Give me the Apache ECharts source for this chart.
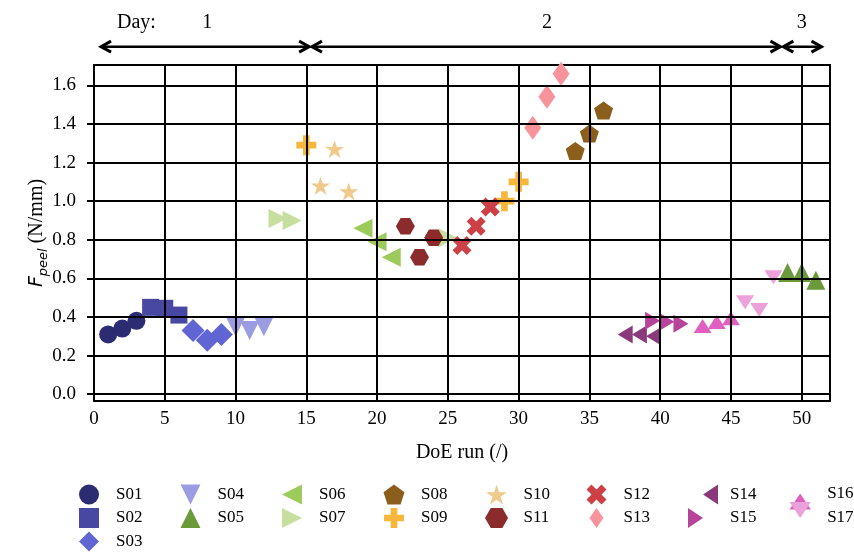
<!DOCTYPE html>
<html>
<head>
<meta charset="utf-8">
<script src="https://cdn.jsdelivr.net/npm/echarts@6/dist/echarts.min.js"></script>
<style>
  html, body { margin: 0; padding: 0; background: #fff; }
  #chart { width: 854px; height: 553px; }
</style>
</head>
<body>
<div id="chart"></div>
<script>
// Peel force F_peel per DoE run, one series per sample (run, N/mm)
const S01 = [[1, 0.31], [2, 0.34], [3, 0.38]];
const S02 = [[4, 0.45], [5, 0.445], [6, 0.41]];
const S03 = [[7, 0.33], [8, 0.28], [9, 0.31]];
const S04 = [[10, 0.35], [11, 0.33], [12, 0.35]];
const S05 = [[49, 0.63], [50, 0.63], [51, 0.59]];
const S06 = [[19, 0.86], [20, 0.79], [21, 0.71]];
const S07 = [[13, 0.91], [14, 0.90], [25, 0.81]];
const S08 = [[34, 1.26], [35, 1.35], [36, 1.47]];
const S09 = [[15, 1.29], [29, 1.00], [30, 1.10]];
const S10 = [[16, 1.08], [17, 1.27], [18, 1.05]];
const S11 = [[22, 0.87], [23, 0.71], [24, 0.81]];
const S12 = [[26, 0.77], [27, 0.87], [28, 0.97]];
const S13 = [[31, 1.38], [32, 1.54], [33, 1.66]];
const S14 = [[37, 0.31], [38, 0.31], [39, 0.30]];
const S15 = [[40, 0.38], [41, 0.375], [42, 0.365]];
const S16 = [[43, 0.39], [44, 0.41], [45, 0.43]];
const S17 = [[46, 0.44], [47, 0.40], [48, 0.57]];

// Axis ticks
const xTicks = [0, 5, 10, 15, 20, 25, 30, 35, 40, 45, 50];
const yTicks = [0, 0.2, 0.4, 0.6, 0.8, 1.0, 1.2, 1.4, 1.6];

// Test days: label, run where the label sits, run span of the arrow
const dayNames = ['1', '2', '3'];
const dayLabelRuns = [8, 32, 50];
const daySpans = [[0.5, 15.2], [15.4, 48.5], [48.7, 51.4]];

// Legend layout: columns of sample names
const legendCols = [
  ['S01', 'S02', 'S03'], ['S04', 'S05'], ['S06', 'S07'], ['S08', 'S09'],
  ['S10', 'S11'], ['S12', 'S13'], ['S14', 'S15'], ['S16', 'S17']
];

const SERIF = '"Liberation Serif", "DejaVu Serif", serif';

// Marker outlines (SVG paths; caret shapes keep their tip at the centre)
const SHAPE = {
  square: 'path://M0,0 L1,0 L1,1 L0,1 Z',
  diamond: 'path://M0,-1 L1,0 L0,1 L-1,0 Z',
  thinDiamond: 'path://M0,-1 L0.7,0 L0,1 L-0.7,0 Z',
  triUp: 'path://M1,0 L2,2 L0,2 Z',
  triDown: 'path://M0,0 L2,0 L1,2 Z',
  triLeft: 'path://M0,1 L2,0 L2,2 Z',
  triRight: 'path://M0,0 L2,1 L0,2 Z',
  pentagon: 'path://M0,-1 L0.951,-0.309 L0.588,0.809 L-0.588,0.809 L-0.951,-0.309 Z',
  plus: 'path://M-1,-3 L1,-3 L1,-1 L3,-1 L3,1 L1,1 L1,3 L-1,3 L-1,1 L-3,1 L-3,-1 L-1,-1 Z',
  star: 'path://M0,-1 L0.2245,-0.309 L0.951,-0.309 L0.3633,0.118 L0.588,0.809 L0,0.382 L-0.588,0.809 L-0.3633,0.118 L-0.951,-0.309 L-0.2245,-0.309 Z',
  hexagon: 'path://M-1,0 L-0.5,-0.866 L0.5,-0.866 L1,0 L0.5,0.866 L-0.5,0.866 Z',
  cross: 'path://M1.414,-2.828 L2.828,-1.414 L1.414,0 L2.828,1.414 L1.414,2.828 L0,1.414 L-1.414,2.828 L-2.828,1.414 L-1.414,0 L-2.828,-1.414 L-1.414,-2.828 L0,-1.414 Z',
  caretLeft: 'path://M0,1 L0,1 M1.5,1 L3,0 L3,2 Z',
  caretRight: 'path://M0,0 L1.5,1 L0,2 Z M3,1 L3,1',
  caretUp: 'path://M1,0 L1,0 M1,1.5 L2,3 L0,3 Z',
  caretDown: 'path://M0,0 L2,0 L1,1.5 Z M1,3 L1,3'
};

const samples = [
  ['S01', S01, 'circle', 18, '#2b2c72'],
  ['S02', S02, SHAPE.square, 17, '#4848a3'],
  ['S03', S03, SHAPE.diamond, 23, '#6065d3'],
  ['S04', S04, SHAPE.triDown, 19, '#9b9de3'],
  ['S05', S05, SHAPE.triUp, 19, '#6b9a3a'],
  ['S06', S06, SHAPE.triLeft, 19, '#9ccb5c'],
  ['S07', S07, SHAPE.triRight, 19, '#c6df9e'],
  ['S08', S08, SHAPE.pentagon, [19, 18], '#8c5e1c'],
  ['S09', S09, SHAPE.plus, 20, '#f6b73c'],
  ['S10', S10, SHAPE.star, [19, 18], '#f1c98c'],
  ['S11', S11, SHAPE.hexagon, [19, 16.5], '#8b2b2b'],
  ['S12', S12, SHAPE.cross, 19, '#cd4146'],
  ['S13', S13, SHAPE.thinDiamond, [17, 24], '#f8939b'],
  ['S14', S14, SHAPE.caretLeft, [30, 18], '#8a3a7c'],
  ['S15', S15, SHAPE.caretRight, [30, 18], '#b6449b'],
  ['S16', S16, SHAPE.caretUp, [18, 28], '#e25fc2'],
  ['S17', S17, SHAPE.caretDown, [18, 28], '#eda1db']
];

const chart = echarts.init(document.getElementById('chart'), null, { renderer: 'canvas' });

// Grid lines drawn as reference lines at every tick
const gridLines = yTicks.map(v => ({ yAxis: v }))
  .concat(xTicks.filter(v => v > 0).map(v => ({ xAxis: v })));

const series = [{
  type: 'scatter',
  data: [],
  z: 1,
  silent: true,
  markLine: {
    silent: true,
    symbol: ['none', 'none'],
    label: { show: false },
    lineStyle: { color: '#000', width: 2, type: 'solid' },
    emphasis: { disabled: true },
    animation: false,
    data: gridLines
  }
}].concat(samples.map(([name, data, symbol, size, color]) => ({
  name: name,
  type: 'scatter',
  data: data,
  symbol: symbol,
  symbolSize: size,
  z: 3,
  itemStyle: { color: color, opacity: 1 },
  emphasis: { disabled: true }
})));

const legends = legendCols.map((col, k) => {
  const caretCol = col[0] === 'S16';
  return {
    data: col,
    orient: 'vertical',
    left: 89 + 101.5 * k - 10,
    top: caretCol ? 477.5 : 484.5,
    itemWidth: 44,
    itemHeight: caretCol ? 32 : 20,
    itemGap: caretCol ? -7.5 : 3.5,
    padding: 0,
    selectedMode: false,
    textStyle: { fontFamily: SERIF, fontSize: 17, color: '#000' }
  };
});

chart.setOption({
  animation: false,
  backgroundColor: '#fff',
  grid: {
    left: 94, right: 24, top: 65, bottom: 152,
    show: true, borderColor: '#000', borderWidth: 2, backgroundColor: 'transparent'
  },
  xAxis: {
    type: 'value',
    min: 0, max: 52,
    name: 'DoE run (/)',
    nameLocation: 'middle',
    nameGap: 42,
    nameMoveOverlap: false,
    nameTextStyle: { fontFamily: SERIF, fontSize: 20, color: '#000' },
    axisLine: { show: false },
    axisTick: { show: true, length: 7, customValues: xTicks, lineStyle: { color: '#000', width: 2 } },
    axisLabel: { customValues: xTicks, margin: 9, fontFamily: SERIF, fontSize: 19, color: '#000' },
    splitLine: { show: false }
  },
  yAxis: {
    type: 'value',
    min: -0.035, max: 1.705,
    name: '{f|F}{s|peel}{n| (N/mm)}',
    nameLocation: 'middle',
    nameGap: 44,
    nameMoveOverlap: false,
    nameTextStyle: {
      color: '#000',
      rich: {
        f: { fontFamily: '"DejaVu Sans", sans-serif', fontStyle: 'italic', fontSize: 19, lineHeight: 26, verticalAlign: 'middle', color: '#000' },
        s: { fontFamily: '"DejaVu Sans", sans-serif', fontStyle: 'italic', fontSize: 13, lineHeight: 26, verticalAlign: 'bottom', color: '#000' },
        n: { fontFamily: SERIF, fontSize: 20, lineHeight: 26, verticalAlign: 'middle', color: '#000' }
      }
    },
    axisLine: { show: false },
    axisTick: { show: true, length: 7, customValues: yTicks, lineStyle: { color: '#000', width: 2 } },
    axisLabel: {
      customValues: yTicks, margin: 18, fontFamily: SERIF, fontSize: 19, color: '#000',
      formatter: v => Number(v).toFixed(1)
    },
    splitLine: { show: false }
  },
  legend: legends,
  series: series
});

// Day annotations above the plot, placed through the axis scales
function dayGraphics() {
  const px = (x, y) => chart.convertToPixel({ gridIndex: 0 }, [x, y]);
  const els = [];
  const head = 10, half = 5.5;
  daySpans.forEach(([a, b]) => {
    const p1 = px(a, 1.80), p2 = px(b, 1.80);
    const y = p1[1];
    els.push({ type: 'line', shape: { x1: p1[0], y1: y, x2: p2[0], y2: y }, style: { stroke: '#000', lineWidth: 2.5 }, silent: true });
    els.push({ type: 'polyline', shape: { points: [[p1[0] + head, y - half], [p1[0], y], [p1[0] + head, y + half]] }, style: { stroke: '#000', lineWidth: 3, fill: null }, silent: true });
    els.push({ type: 'polyline', shape: { points: [[p2[0] - head, y - half], [p2[0], y], [p2[0] - head, y + half]] }, style: { stroke: '#000', lineWidth: 3, fill: null }, silent: true });
  });
  const labelY = px(0, 1.925)[1];
  els.push({ type: 'text', silent: true, style: { text: 'Day:', x: px(3, 0)[0], y: labelY, align: 'center', verticalAlign: 'middle', font: '20px ' + SERIF, fill: '#000' } });
  dayNames.forEach((d, i) => {
    els.push({ type: 'text', silent: true, style: { text: d, x: px(dayLabelRuns[i], 0)[0], y: labelY, align: 'center', verticalAlign: 'middle', font: '20px ' + SERIF, fill: '#000' } });
  });
  return els;
}
chart.setOption({ graphic: { elements: dayGraphics() } });
</script>
</body>
</html>
